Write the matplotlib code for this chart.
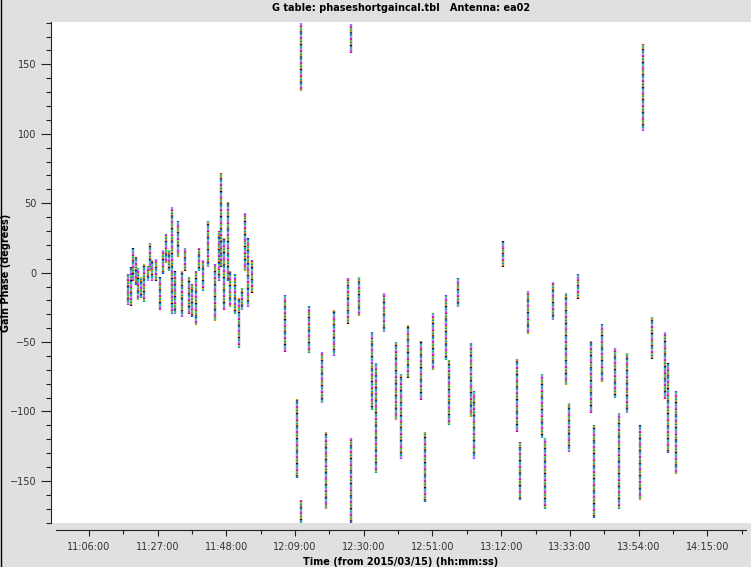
import matplotlib
matplotlib.use('Agg')
import matplotlib.pyplot as plt
from matplotlib.lines import Line2D
from matplotlib.ticker import FixedLocator, FuncFormatter, MultipleLocator
import numpy as np

plt.rcParams['lines.scale_dashes'] = False

# one entry per scan streak: time, lowest and highest gain phase (deg)
times = ['11:18:00', '11:18:45', '11:19:32', '11:20:17', '11:21:04', '11:21:54',
         '11:22:55', '11:23:57', '11:24:44', '11:25:21', '11:26:23', '11:27:42',
         '11:28:43', '11:29:32', '11:30:27', '11:31:17', '11:32:12', '11:33:07',
         '11:34:20', '11:35:21', '11:36:29', '11:37:35', '11:38:43', '11:39:38',
         '11:40:46', '11:42:28', '11:44:26', '11:45:39', '11:46:21', '11:47:11',
         '11:48:24', '11:49:12', '11:50:38', '11:51:57', '11:52:52', '11:53:36',
         '11:54:31', '11:55:44',
         '12:05:55', '12:09:35', '12:10:49', '12:10:49', '12:13:16', '12:17:14',
         '12:18:27', '12:20:54', '12:25:11', '12:26:06', '12:26:06', '12:28:31',
         '12:32:30', '12:33:44', '12:36:11', '12:39:52', '12:41:23', '12:43:31',
         '12:47:30', '12:48:43', '12:51:10', '12:55:09', '12:56:04', '12:58:49',
         '13:02:47', '13:03:42', '13:12:34', '13:16:51', '13:17:46', '13:20:13',
         '13:24:29', '13:25:24', '13:27:51', '13:31:50', '13:32:45', '13:35:30',
         '13:39:28', '13:40:23', '13:42:50', '13:46:48', '13:48:02', '13:50:29',
         '13:54:27', '13:55:23', '13:58:07', '14:02:06', '14:03:01', '14:05:28']
phase_hi = [-1, 4, 18, 11, 3, -3, 6, 5, 21, 9, 10, -3, 16, 28, 16, 47, 1, 37,
            1, 18, -3, -8, 1, 18, 9, 37, 6, 30, 72, 25, 51, 1, -1, -18, -11, 43,
            25, 9,
            -16, -91, 180, -164, -24, -57, -115, -27, -4, 179, -119, -3,
            -43, -65, -15, -50, -73, -38, -49, -115, -29, -16, -63, -4,
            -51, -85, 23, -62, -122, -13, -73, -119, -7, -15, -94, -1,
            -49, -110, -37, -54, -101, -58, -110, 165, -32, -43, -65, -85]
phase_lo = [-23, -24, -6, -9, -20, -18, -21, -6, 1, -6, -6, -27, -1, 7, 1, -30,
            -30, 11, -32, 1, -30, -32, -38, 1, -13, 4, -35, -6, 4, -27, -6, -25,
            -30, -54, -27, 1, -25, -15,
            -57, -148, 131, -180, -58, -94, -170, -60, -37, 158, -180, -31,
            -99, -144, -43, -106, -134, -76, -92, -165, -70, -63, -110, -25,
            -104, -134, 4, -115, -164, -44, -119, -170, -34, -81, -129, -19,
            -101, -177, -79, -90, -170, -101, -164, 102, -62, -91, -130, -145]

palette = ['#9933ff', '#e6006e', '#66cc00', '#0099aa', '#e68a00',
           '#1a1a1a', '#2255ff', '#00cc55', '#b366ff']


def to_min(s):
    h, m, sec = s.split(':')
    return int(h) * 60 + int(m) + int(sec) / 60.0


def hms(v, pos):
    tot = int(round(v * 60))
    return '%02d:%02d:%02d' % (tot // 3600, (tot // 60) % 60, tot % 60)


t = np.array([to_min(s) for s in times])

fig = plt.figure(figsize=(7.51, 5.67), dpi=100, facecolor='#e0e0e0')
ax = fig.add_axes([51 / 751, 44 / 567, 700 / 751, 501 / 567])
ax.set_facecolor('white')

# multicoloured streaks: one dashed layer per colour
n = len(palette)
seg = 1.0
for k, col in enumerate(palette):
    styles = [(((k + 4 * i) % n) * seg, (seg, seg * (n - 1))) for i in range(len(t))]
    ax.vlines(t, phase_lo, phase_hi, colors=col, linewidth=1.7,
              linestyles=styles)

ax.set_xlim(654.38, 868.38)
ax.set_ylim(-180.3, 180.5)

for s in ['top', 'right']:
    ax.spines[s].set_visible(False)
ax.spines['bottom'].set_position(('outward', 5))
ax.spines['bottom'].set_bounds(655.9, 866.9)
ax.spines['left'].set_color('#222222')
ax.spines['bottom'].set_color('#222222')

ax.xaxis.set_major_locator(FixedLocator(np.arange(666, 870, 21)))
ax.xaxis.set_minor_locator(FixedLocator(np.arange(676.5, 870, 21)))
ax.xaxis.set_major_formatter(FuncFormatter(hms))
ax.yaxis.set_major_locator(MultipleLocator(50))
ax.yaxis.set_minor_locator(MultipleLocator(10))

ax.tick_params(axis='x', which='major', length=4.5, width=0.8, pad=4,
               labelsize=7, colors='#222222', labelcolor='#333333')
ax.tick_params(axis='x', which='minor', length=3, width=0.8, colors='#222222')
ax.tick_params(axis='y', which='major', length=7, width=0.8, pad=3.5,
               labelsize=7, colors='#222222', labelcolor='#333333')
ax.tick_params(axis='y', which='minor', length=3.6, width=0.8, colors='#222222')

ax.set_title('G table: phaseshortgaincal.tbl   Antenna: ea02',
             fontsize=7, fontweight='bold', pad=8)
ax.set_xlabel('Time (from 2015/03/15) (hh:mm:ss)', fontsize=7, fontweight='bold')
ax.xaxis.set_label_coords(0.5, -0.067)
ax.set_ylabel('Gain Phase (degrees)', fontsize=7, fontweight='bold')
ax.yaxis.set_label_coords(-0.057, 0.5)

fig.add_artist(Line2D([0.0007, 0.0007], [0, 1], color='black', lw=1,
                      transform=fig.transFigure))

fig.savefig('out.png', dpi=100, facecolor=fig.get_facecolor())
